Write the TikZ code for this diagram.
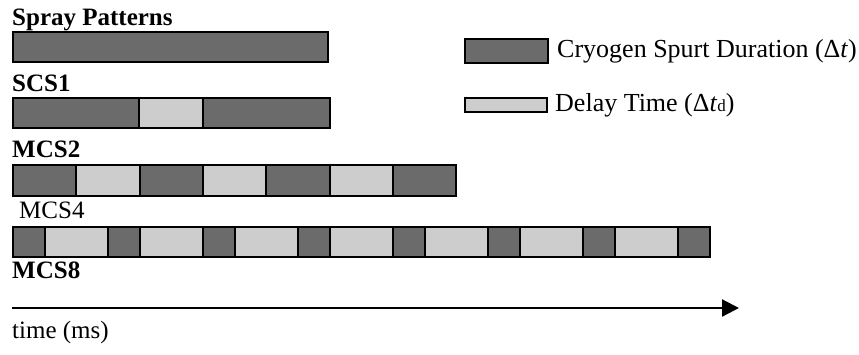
\documentclass[tikz,border=0pt]{standalone}
\usepackage{fontspec}
\setmainfont{Liberation Serif}
\usepackage{tikz}
\usetikzlibrary{arrows.meta}

\definecolor{spurtgray}{HTML}{6B6B6B}
\definecolor{delaygray}{HTML}{CDCDCD}

\tikzset{
  seg/.style={draw, line width=2pt, inner sep=0pt, anchor=north west, minimum height=30pt},
  spurt/.style={seg, fill=spurtgray},
  delay/.style={seg, fill=delaygray},
  lbl/.style={anchor=base west, inner sep=0pt, font=\fontsize{25}{29}\selectfont},
  boldlbl/.style={lbl, font=\fontsize{25}{29}\selectfont\bfseries},
}

\begin{document}
\begin{tikzpicture}[x=1pt, y=-1pt]
			\useasboundingbox (0,0) rectangle (859,354);
			% labels
			\node[boldlbl] at (12,25) (spray){Spray Patterns};
			\node[boldlbl] at (12,91) (scs1){SCS1};
			\node[boldlbl] at (12,157) (mcs2){MCS2};
			\node[lbl] at (19,218) (mcs4){MCS4};
			\node[boldlbl] at (12,278) (mcs8){MCS8};
			\node[lbl] at (12,338) (time){time (ms)};
			% first bar
			\node[spurt, minimum width=315pt] at (12,31) (b1){};
			% SCS1
			\node[spurt, minimum width=126pt] at (12,97) (s1){};
			\node[delay, minimum width=64pt] at (138,97) (s2){};
			\node[spurt, minimum width=127pt] at (202,97) (s3){};
			% MCS2
			\foreach \i in {0,...,6} {
				\pgfmathparse{int(mod(\i,2))}
				\ifnum\pgfmathresult=0
					\node[spurt, minimum width=63.3pt, minimum height=31pt] at (12+\i*63.3,164) (m2-\i){};
				\else
					\node[delay, minimum width=63.3pt, minimum height=31pt] at (12+\i*63.3,164) (m2-\i){};
				\fi
			}
			% MCS4
			\foreach \i in {0,...,6}
				\node[delay, minimum width=63.4pt] at (43.6+\i*95,226) (m4d-\i){};
			\foreach \i in {0,...,7}
				\node[spurt, minimum width=31.6pt] at (12+\i*95,226) (m4s-\i){};
			% legend
			\node[spurt, minimum width=83pt, minimum height=24pt] at (464,38) (leg1){};
			\node[lbl, font=\fontsize{26}{30}\selectfont] at (557,57) (leg1txt){Cryogen Spurt Duration (Δ\textit{t})};
			\node[delay, minimum width=82pt, minimum height=14pt] at (464,97) (leg2){};
			\node[lbl, font=\fontsize{26}{30}\selectfont] at (555,111) (leg2txt){Delay Time (Δ\textit{t}{\fontsize{17}{17}\selectfont d})};
			% time axis
			\coordinate (t0) at (12,308);
			\coordinate (t1) at (739,308);
			\draw[line width=2.2pt, -{Triangle[length=17pt,width=17pt]}] (t0) -- (t1);
		\end{tikzpicture}
\end{document}
